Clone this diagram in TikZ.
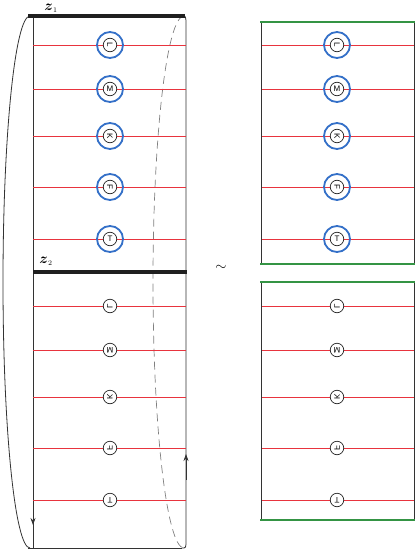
\documentclass[tikz,border=0pt]{standalone}
\usepackage{fontspec}
\setsansfont{Liberation Sans}
\usepackage{amsmath}
\usepackage{graphicx}
\usetikzlibrary{arrows.meta}
\definecolor{strred}{RGB}{232,52,62}
\definecolor{haloblue}{RGB}{52,112,200}
\definecolor{seamgreen}{RGB}{52,148,68}

\begin{document}
\begin{tikzpicture}[
    x=1pt, y=-1pt,
    >={Stealth[length=7pt,width=5pt]},
    edge/.style={draw, black!80, line width=0.8pt},
    cut/.style={draw, black!88, line width=3.6pt},
    seam/.style={draw, seamgreen, line width=2.2pt},
    string/.style={draw, strred, line width=0.9pt},
    back/.style={draw, black!50, line width=0.7pt, dash pattern=on 8pt off 5pt},
    halo/.style={circle, draw=haloblue, line width=1.8pt, minimum size=26pt, inner sep=0pt},
    ptc/.style={circle, draw=black!85, fill=white, line width=0.7pt, minimum size=13.5pt,
      inner sep=0pt, font=\sffamily\fontsize{8}{8}\selectfont},
  ]
  \useasboundingbox (0,0) rectangle (415,549);

  % ---- cilindro ----
  \draw[back] (184,16) arc[start angle=270, end angle=90, x radius=31, y radius=266];
  \draw[edge] (30,16) arc[start angle=270, end angle=90, x radius=27, y radius=266];
  \draw[edge] (33,16) -- (33,548);
  \draw[edge, ->] (33,500) -- (33,525);
  \draw[edge] (182,16) .. controls (186,16) .. (186,26) -- (186,540)
    .. controls (186,548) .. (182,548);
  \draw[edge, ->] (186,480) -- (186,454);
  \draw[edge] (28,548) -- (182,548);

  % ---- mitad superior ----
  \foreach \y/\lbl/\ang [count=\i] in {45/L/-90, 89/M/0, 136/K/-90, 187/F/-90, 239/T/0} {
    \draw[string] (33,\y) -- (186,\y);
    \draw[string] (261,\y) -- (414,\y);
    \node[halo] (hl\i) at (110,\y) {};
    \node[ptc] (pl\i) at (110,\y) {\rotatebox{\ang}{\lbl}};
    \node[halo] (hr\i) at (337,\y) {};
    \node[ptc] (pr\i) at (337,\y) {\rotatebox{\ang}{\lbl}};
  }

  % ---- mitad inferior (reflejada) ----
  \foreach \y/\lbl/\ang [count=\i] in {306/L/-90, 350/M/0, 397/K/-90, 448/F/-90, 500/T/0} {
    \draw[string] (33,\y) -- (186,\y);
    \draw[string] (261,\y) -- (414,\y);
    \node[ptc] (ql\i) at (110,\y) {\scalebox{1}[-1]{\rotatebox{\ang}{\lbl}}};
    \node[ptc] (qr\i) at (337,\y) {\scalebox{1}[-1]{\rotatebox{\ang}{\lbl}}};
  }

  % ---- cortes ----
  \draw[cut] (28,16) -- (185,16);
  \draw[cut] (33,272) -- (187,272);
  \node[inner sep=0pt] (zone) at (51,8) {\fontsize{15}{15}\selectfont$\boldsymbol{z}_{\scriptscriptstyle 1}$};
  \node[inner sep=0pt] (ztwo) at (46,261) {\fontsize{15}{15}\selectfont$\boldsymbol{z}_{\scriptscriptstyle 2}$};

  % ---- cajas de la derecha ----
  \draw[edge] (261,22) -- (261,264);
  \draw[edge] (414,22) -- (414,264);
  \draw[seam] (260,22) -- (415,22);
  \draw[seam] (260,264) -- (415,264);
  \draw[edge] (261,282) -- (261,520);
  \draw[edge] (414,282) -- (414,520);
  \draw[seam] (260,282) -- (415,282);
  \draw[seam] (260,520) -- (415,520);

  \node (equiv) at (221,268) {\Large$\sim$};
\end{tikzpicture}
\end{document}
